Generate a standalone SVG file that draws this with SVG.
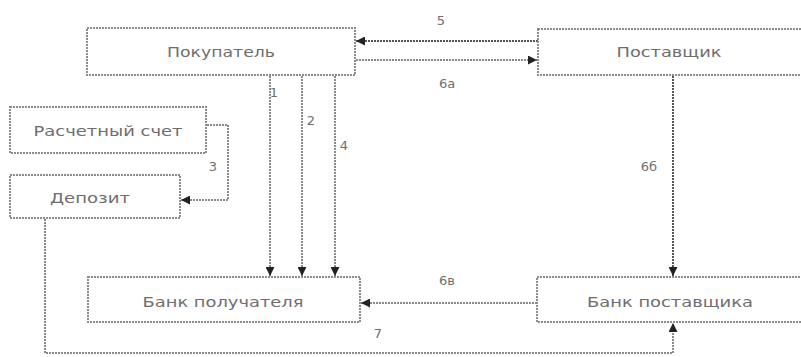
<svg xmlns="http://www.w3.org/2000/svg" width="801" height="357" viewBox="0 0 801 357">
<defs>
<style>
.box{fill:#fff;stroke:#8c8c8c;stroke-width:2;stroke-dasharray:2 1}
.lbl{font-family:"DejaVu Sans",sans-serif;font-size:14px;fill:#6e6e6e;text-anchor:middle;dominant-baseline:central}
.num{font-family:"DejaVu Sans",sans-serif;font-size:13px;fill:#6e6e6e;text-anchor:middle;dominant-baseline:central}
.ln{fill:none;stroke:#8a8a8a;stroke-width:2;stroke-dasharray:2 1;marker-end:url(#ah)}
.ln0{fill:none;stroke:#8a8a8a;stroke-width:2;stroke-dasharray:2 1}
.dk{stroke:#555}
</style>
<marker id="ah" viewBox="0 0 10 10" refX="10" refY="5" markerWidth="9" markerHeight="9" markerUnits="userSpaceOnUse" orient="auto">
<path d="M0,0 L10,5 L0,10 z" fill="#222"/>
</marker>
</defs>
<g id="connectors">
<path class="ln dk" d="M538,41 H356"/>
<path class="ln" d="M356,60 H537"/>
<path class="ln dk" d="M673,76 V276"/>
<path class="ln" d="M207,125 H228 V200 H181"/>
<path class="ln" d="M270,76 V276"/>
<path class="ln" d="M302,76 V276"/>
<path class="ln" d="M335,76 V276"/>
<path class="ln" d="M537,303 H361"/>
<path class="ln" d="M45,219 V353 H673 V323"/>
<text class="num" x="441" y="20">5</text>
<text class="num" x="447" y="83">6а</text>
<text class="num" x="649" y="166">6б</text>
<text class="num" x="213" y="166">3</text>
<text class="num" x="274" y="92">1</text>
<text class="num" x="311" y="120">2</text>
<text class="num" x="344" y="145">4</text>
<text class="num" x="447" y="280">6в</text>
<text class="num" x="378" y="333">7</text>
</g>
<g id="buyer">
<rect class="box" x="87" y="28" width="268" height="47"/>
<text class="lbl" x="221" y="52" textLength="108" lengthAdjust="spacingAndGlyphs">Покупатель</text>
</g>
<g id="supplier">
<rect class="box" x="538" y="29" width="270" height="46"/>
<text class="lbl" x="669" y="52" textLength="105" lengthAdjust="spacingAndGlyphs">Поставщик</text>
</g>
<g id="account">
<rect class="box" x="10" y="107" width="196" height="46"/>
<text class="lbl" x="108" y="131" textLength="149" lengthAdjust="spacingAndGlyphs">Расчетный счет</text>
</g>
<g id="deposit">
<rect class="box" x="10" y="175" width="170" height="43"/>
<text class="lbl" x="90" y="198" textLength="80" lengthAdjust="spacingAndGlyphs">Депозит</text>
</g>
<g id="buyer-bank">
<rect class="box" x="88" y="277" width="272" height="45"/>
<text class="lbl" x="223" y="302" textLength="161" lengthAdjust="spacingAndGlyphs">Банк получателя</text>
</g>
<g id="supplier-bank">
<rect class="box" x="537" y="277" width="270" height="45"/>
<text class="lbl" x="670" y="302" textLength="166" lengthAdjust="spacingAndGlyphs">Банк поставщика</text>
</g>
</svg>
